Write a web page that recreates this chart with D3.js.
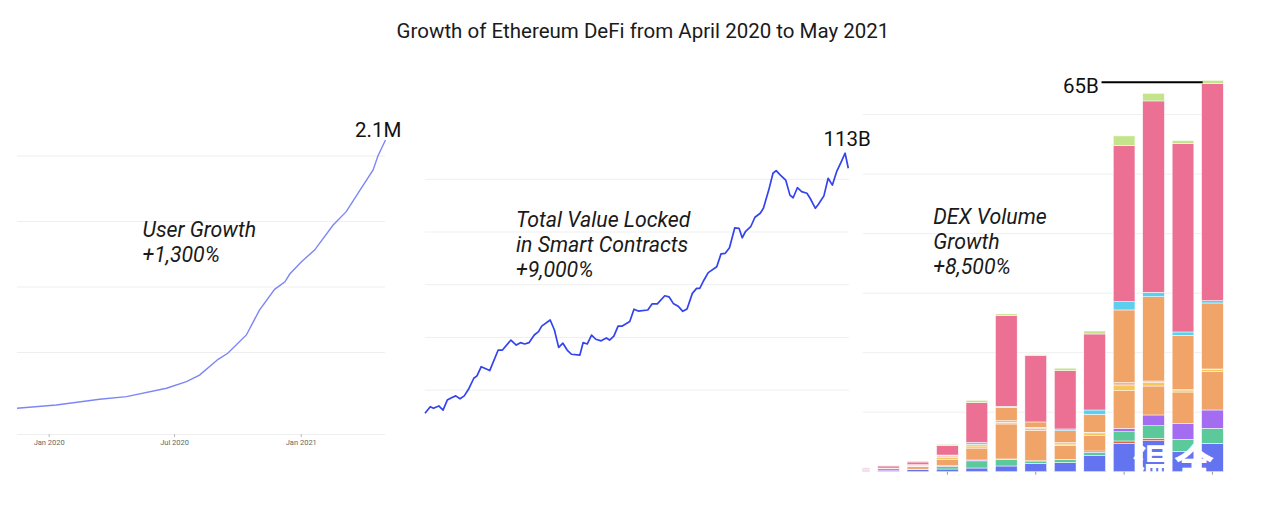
<!DOCTYPE html>
<html>
<head>
<meta charset="utf-8">
<script src="https://cdn.jsdelivr.net/npm/d3@7"></script>
<style>
  html, body { margin: 0; padding: 0; background: #fff; }
  svg { display: block; font-family: Roboto, "Noto Sans", sans-serif; }
</style>
</head>
<body>
<svg id="chart" width="1280" height="509"></svg>
<script>
// ---------------- DATA ----------------
const chartTitle = "Growth of Ethereum DeFi from April 2020 to May 2021";

// Panel 1: cumulative DeFi users (millions)
const userDates = ["2019-11-16","2020-01-12","2020-03-15","2020-04-23","2020-06-20","2020-07-19",
  "2020-08-07","2020-09-03","2020-09-17","2020-10-14","2020-11-02","2020-11-24","2020-12-09",
  "2020-12-16","2021-01-02","2021-01-21","2021-02-17","2021-03-08","2021-03-28","2021-04-16",
  "2021-04-23","2021-05-04"];
const userValues = [0.074,0.099,0.143,0.163,0.227,0.277,0.328,0.448,0.494,0.634,0.824,0.982,1.040,
  1.099,1.193,1.282,1.473,1.575,1.740,1.893,2.000,2.122];
const userTicks = ["2020-01-01","2020-07-01","2021-01-01"];
const userGrid = [0.5, 1, 1.5, 2];
const userEndLabel = "2.1M";
const userNote = ["User Growth", "+1,300%"];

// Panel 2: total value locked (billions USD), days since 2020-04-01
const tvlStart = "2020-04-01";
const tvlDays = [0,5,8,13,17,21,25,29,33,37,41,46,49,53,61,69,73,81,86,90,94,98,103,107,110,118,122,
  126,130,134,138,146,149,153,157,161,166,171,174,178,182,186,193,197,201,210,214,219,226,230,234,
  239,243,247,252,256,259,263,267,275,279,283,287,292,296,299,302,307,311,316,319,324,328,331,335,
  340,344,347,351,355,360,363,368,371,376,380,384,388,392,396,399];
const tvlValues = [11.2,13.7,13.1,14.0,12.4,16.2,17.1,17.8,16.7,17.8,20.3,24.5,25.4,28.9,27.4,35.2,
  35.2,39.0,37.1,38.0,37.5,38.0,40.9,42.2,44.3,46.6,42.8,36.2,37.8,35.2,33.6,33.3,38.0,37.5,40.9,
  39.3,38.7,39.8,39.0,40.5,44.3,44.3,46.0,50.7,50.0,50.4,52.7,52.7,55.8,55.4,52.9,51.7,49.9,50.8,
  56.7,58.6,58.6,61.8,64.6,66.8,71.7,71.9,74.0,81.6,81.4,77.8,80.1,82.0,85.6,87.1,89.0,95.9,102.3,
  103.3,101.6,99.7,94.0,93.0,96.8,95.3,94.7,92.8,89.0,90.6,93.7,100.4,97.8,102.9,106.3,109.9,104.2];
const tvlGrid = [20, 40, 60, 80, 100];
const tvlEndLabel = "113B";
const tvlNote = ["Total Value Locked", "in Smart Contracts", "+9,000%"];

// Panel 3: monthly DEX volume (billions USD) stacked by exchange
const dexMonths = ["2020-04","2020-05","2020-06","2020-07","2020-08","2020-09","2020-10",
  "2020-11","2020-12","2021-01","2021-02","2021-03","2021-04"];
const dexTicks = ["2020-07","2020-10","2021-01","2021-04"];
const dexKeys = ["dexA","dexB","dexC","dexD","dexE","dexF","dexG","dexH","dexI","dexJ","dexK"];
const dexColors = ["#6474f1","#e8604a","#5cc99a","#a46cf0","#f0a468","#f6c65a","#e8b4a4",
  "#f0a468","#5ccff0","#ec7093","#c4e48c"];
const dexA = [0.10,0.12,0.33,0.45,0.62,0.96,1.41,1.55,2.69,4.77,5.21,3.36,4.77];
const dexB = [0,0,0,0,0,0,0,0,0,0.39,0.40,0,0];
const dexC = [0.02,0.03,0.05,0.45,1.20,1.13,0.39,0.47,0.57,1.56,2.12,2.08,2.52];
const dexD = [0.15,0.33,0.05,0.10,0.15,0.05,0.03,0.05,0.22,0.57,1.80,2.69,3.08];
const dexE = [0.12,0.10,0.40,1.10,2.00,5.88,5.14,2.29,2.57,6.32,4.87,5.26,6.44];
const dexF = [0.02,0.03,0.08,0.35,0.35,0.29,0.25,0.29,0.47,0.96,0.59,0.34,0.40];
const dexG = [0.01,0,0.08,0.20,0.30,0.27,0.25,0.25,0.10,0.39,0.25,0.05,0.05];
const dexH = [0,0,0.15,0.10,0,2.24,0.89,1.98,3.03,12.22,14.17,9.13,11.09];
const dexI = [0,0,0.04,0.05,0.30,0.17,0,0.30,0.72,1.39,0.74,0.57,0.39];
const dexJ = [0.18,0.35,0.45,1.60,6.72,15.24,11.14,9.82,12.77,26.22,32.15,31.65,36.47];
const dexK = [0.04,0.12,0.17,0.20,0.36,0.29,0.17,0.40,0.50,1.63,1.29,0.50,0.55];
const dexGrid = [10, 20, 30, 40, 50, 60];
const dexPeakLabel = "65B";
const dexNote = ["DEX Volume", "Growth", "+8,500%"];
const watermark = "温全";

// ---------------- DRAW ----------------
const svg = d3.select("#chart");
const parseDay = d3.utcParse("%Y-%m-%d");
const parseMonth = d3.utcParse("%Y-%m");
const gridColor = "#efefef";

svg.append("text").attr("x", 643).attr("y", 37.5).attr("text-anchor", "middle")
  .attr("font-size", 20.5).attr("fill", "#1a1a1a").text(chartTitle);

function noteText(lines, x, y0, step) {
  const t = svg.append("text").attr("font-style", "italic").attr("font-size", 21.3).attr("fill", "#1a1a1a");
  lines.forEach((s, i) => t.append("tspan").attr("x", x).attr("y", y0 + i * step).text(s));
}

// ----- Panel 1 -----
{
  const x = d3.scaleUtc().domain([parseDay(userDates[0]), parseDay(userDates[userDates.length - 1])]).range([17, 385.5]);
  const y = d3.scaleLinear().domain([-0.122, 2.122]).range([434, 140]);
  const g = svg.append("g");
  g.selectAll("line.grid").data(userGrid).join("line")
    .attr("x1", 17).attr("x2", 385).attr("y1", d => y(d)).attr("y2", d => y(d))
    .attr("stroke", gridColor).attr("stroke-width", 1);
  const ax = g.append("g").attr("transform", `translate(0,${y(-0.122)})`)
    .call(d3.axisBottom(x).tickValues(userTicks.map(parseDay)).tickFormat(d3.utcFormat("%b %Y")).tickSize(3).tickPadding(3));
  ax.select(".domain").attr("stroke", gridColor).attr("d", "M17,0.5H385");
  ax.selectAll(".tick line").attr("stroke", "#bbb");
  ax.selectAll(".tick text").attr("font-size", 7.5).attr("fill", "#666").attr("font-family", "Roboto, sans-serif");
  const data = userDates.map((d, i) => ({ d: parseDay(d), v: userValues[i] }));
  g.append("path").datum(data)
    .attr("d", d3.line().x(p => x(p.d)).y(p => y(p.v)))
    .attr("fill", "none").attr("stroke", "#7d86f7").attr("stroke-width", 1.4);
  g.append("text").attr("x", 355).attr("y", 137).attr("font-size", 20.5).attr("fill", "#111").text(userEndLabel);
  noteText(userNote, 142.5, 237, 25);
}

// ----- Panel 2 -----
{
  const t0 = parseDay(tvlStart);
  const x = d3.scaleUtc().domain([t0, d3.utcDay.offset(t0, 399)]).range([425, 848.3]);
  const y = d3.scaleLinear().domain([0, 110]).range([442.8, 442.8 - 110 * 2.635]);
  const g = svg.append("g");
  g.selectAll("line.grid").data(tvlGrid).join("line")
    .attr("x1", 425).attr("x2", 849).attr("y1", d => y(d)).attr("y2", d => y(d))
    .attr("stroke", gridColor).attr("stroke-width", 1);
  const data = tvlDays.map((d, i) => ({ d: d3.utcDay.offset(t0, d), v: tvlValues[i] }));
  g.append("path").datum(data)
    .attr("d", d3.line().x(p => x(p.d)).y(p => y(p.v)))
    .attr("fill", "none").attr("stroke", "#3344ee").attr("stroke-width", 1.7).attr("stroke-linejoin", "round");
  g.append("text").attr("x", 823.5).attr("y", 146).attr("font-size", 20.5).attr("fill", "#111").text(tvlEndLabel);
  noteText(tvlNote, 516, 227, 25.2);
}

// ----- Panel 3 -----
{
  const months = dexMonths.map(parseMonth);
  const x = d3.scaleBand().domain(months.map(d => +d)).range([848.2, 1223.3]).paddingInner(0.263).paddingOuter(0);
  const y = d3.scaleLinear().domain([0, 65.7]).range([471.7, 80.7]);
  const seriesArrays = { dexA, dexB, dexC, dexD, dexE, dexF, dexG, dexH, dexI, dexJ, dexK };
  const rows = months.map((m, i) => {
    const r = { m: +m };
    dexKeys.forEach(k => r[k] = seriesArrays[k][i]);
    return r;
  });
  const stacked = d3.stack().keys(dexKeys)(rows);
  const color = d3.scaleOrdinal().domain(dexKeys).range(dexColors);

  const g = svg.append("g");
  g.selectAll("line.grid").data(dexGrid).join("line")
    .attr("x1", 862.7).attr("x2", 1223).attr("y1", d => y(d)).attr("y2", d => y(d))
    .attr("stroke", gridColor).attr("stroke-width", 1);

  svg.append("clipPath").attr("id", "dexclip").append("rect")
    .attr("x", 862.7).attr("y", 60).attr("width", 380).attr("height", 420);

  const bars = g.append("g").attr("clip-path", "url(#dexclip)");
  bars.selectAll("g.layer").data(stacked).join("g").attr("class", "layer")
    .attr("fill", s => color(s.key))
    .selectAll("rect").data(s => s).join("rect")
    .attr("x", d => x(d.data.m)).attr("width", x.bandwidth())
    .attr("y", d => y(d[1])).attr("height", d => Math.max(0, y(d[0]) - y(d[1])))
    .attr("stroke", "#fff").attr("stroke-width", 0.5);

  // bottom tick marks
  const ax = g.append("g").attr("transform", `translate(0,${y(0)})`)
    .call(d3.axisBottom(x).tickValues(dexTicks.map(s => +parseMonth(s))).tickFormat("").tickSize(3));
  ax.select(".domain").remove();
  ax.selectAll(".tick line").attr("stroke", "#999");

  // peak annotation
  const totals = rows.map(r => d3.sum(dexKeys, k => r[k]));
  const iMax = d3.maxIndex(totals);
  g.append("line").attr("x1", 1101.5).attr("x2", x(rows[iMax].m) + 1)
    .attr("y1", 82.3).attr("y2", 82.3).attr("stroke", "#000").attr("stroke-width", 2);
  g.append("text").attr("x", 1063).attr("y", 93.3).attr("font-size", 20.5).attr("fill", "#111").text(dexPeakLabel);
  noteText(dexNote, 933.3, 224.3, 25);

  // watermark
  svg.append("text").attr("x", 1132).attr("y", 478).attr("font-size", 40).attr("font-weight", 700)
    .attr("font-family", "'Noto Sans CJK SC', sans-serif").attr("fill", "#fff")
    .attr("letter-spacing", 2).text(watermark);
}
</script>
</body>
</html>
